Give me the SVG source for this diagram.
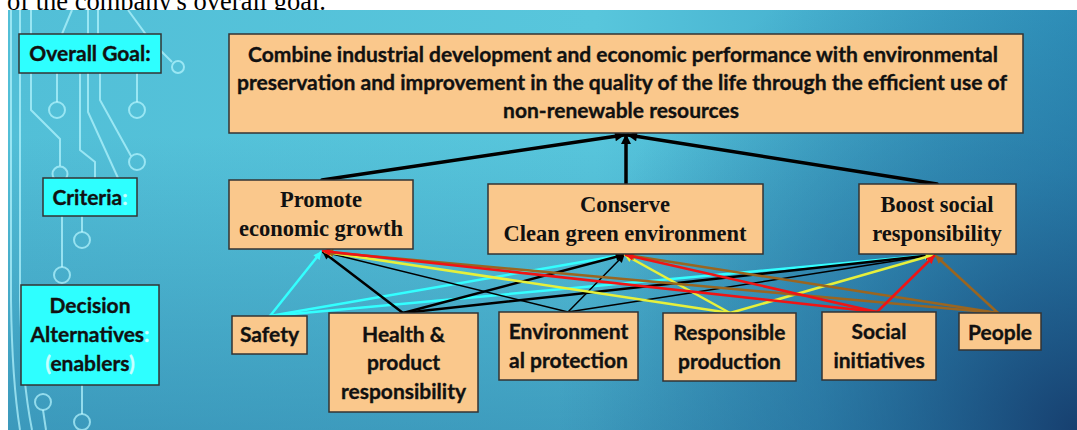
<svg xmlns="http://www.w3.org/2000/svg" width="1077" height="430" viewBox="0 0 1077 430">
  <style>
    .sans { font-family: Lato, "Open Sans", "Liberation Sans", sans-serif; font-weight: 700; fill: #111; stroke: #111; stroke-width: 0.35; }
    .serif { font-family: "Liberation Serif", "Times New Roman", serif; font-weight: 700; fill: #111; }
    .box { fill: #fac88c; stroke: #333; stroke-width: 1.5; }
    .tag { fill: #2effff; stroke: #333; stroke-width: 1.5; }
    .pale { fill: #c8ffff; stroke: #c8ffff; }
    .trace { fill: none; stroke: #b8f6ff; stroke-opacity: 0.7; stroke-width: 2; }
    .link { fill: none; stroke-linecap: round; }
  </style>
  <defs>
    <linearGradient id="bgBase" x1="0" y1="0" x2="1" y2="0">
      <stop offset="0" stop-color="#52bfd7"/>
      <stop offset="0.55" stop-color="#58c6dc"/>
      <stop offset="1" stop-color="#3198c0"/>
    </linearGradient>
    <linearGradient id="bgFloor" x1="0" y1="0" x2="0" y2="1">
      <stop offset="0.3" stop-color="#1f6a9a" stop-opacity="0"/>
      <stop offset="1" stop-color="#1f6a9a" stop-opacity="0.45"/>
    </linearGradient>
    <radialGradient id="bgCorner" gradientUnits="userSpaceOnUse" cx="1077" cy="430" r="520">
      <stop offset="0" stop-color="#163c6c" stop-opacity="0.95"/>
      <stop offset="0.5" stop-color="#1d5a8c" stop-opacity="0.45"/>
      <stop offset="1" stop-color="#1d5a8c" stop-opacity="0"/>
    </radialGradient>
    <marker id="ah-black-big" viewBox="0 0 10 10" refX="9" refY="5" markerWidth="12" markerHeight="10" markerUnits="userSpaceOnUse" orient="auto">
      <path d="M0,0 L10,5 L0,10 z" fill="#000"/>
    </marker>
    <marker id="ah-black" viewBox="0 0 10 10" refX="9" refY="5" markerWidth="10" markerHeight="8" markerUnits="userSpaceOnUse" orient="auto">
      <path d="M0,0 L10,5 L0,10 z" fill="#000"/>
    </marker>
    <marker id="ah-cyan" viewBox="0 0 10 10" refX="9" refY="5" markerWidth="10" markerHeight="8" markerUnits="userSpaceOnUse" orient="auto">
      <path d="M0,0 L10,5 L0,10 z" fill="#33ffff"/>
    </marker>
    <marker id="ah-yellow" viewBox="0 0 10 10" refX="9" refY="5" markerWidth="10" markerHeight="8" markerUnits="userSpaceOnUse" orient="auto">
      <path d="M0,0 L10,5 L0,10 z" fill="#e6f03c"/>
    </marker>
    <marker id="ah-red" viewBox="0 0 10 10" refX="9" refY="5" markerWidth="10" markerHeight="8" markerUnits="userSpaceOnUse" orient="auto">
      <path d="M0,0 L10,5 L0,10 z" fill="#f01414"/>
    </marker>
    <marker id="ah-brown" viewBox="0 0 10 10" refX="9" refY="5" markerWidth="10" markerHeight="8" markerUnits="userSpaceOnUse" orient="auto">
      <path d="M0,0 L10,5 L0,10 z" fill="#9a6520"/>
    </marker>
  </defs>

  <!-- page strip above the slide -->
  <rect x="0" y="0" width="1077" height="430" fill="#fff"/>
  <text x="7" y="10" font-family="'Liberation Serif', 'Times New Roman', serif" font-size="26.5" fill="#000">of the company's overall goal.</text>

  <!-- slide background -->
  <g id="background">
    <rect x="8" y="10" width="1069" height="420" fill="url(#bgBase)"/>
    <rect x="8" y="10" width="1069" height="420" fill="url(#bgFloor)"/>
    <rect x="8" y="10" width="1069" height="420" fill="url(#bgCorner)"/>
  </g>

  <!-- circuit-board ornament on the left edge -->
  <g id="circuit" class="trace">
    <path d="M11,10 V300 Q12,380 20,430"/>
    <path d="M20,10 V300 Q22,380 32,430"/>
    <path d="M31,10 V110 L60,139 V166"/>
    <circle cx="60" cy="174" r="7.5"/>
    <path d="M72,10 L62,34"/>
    <path d="M57,73 V102"/>
    <circle cx="57" cy="110" r="8"/>
    <path d="M88,10 V34"/>
    <path d="M98,10 V34"/>
    <path d="M88,73 V112 L118,178"/>
    <path d="M80,73 V150 L95,162 V178"/>
    <path d="M100,73 V100 L131,156"/>
    <circle cx="137" cy="162" r="8"/>
    <path d="M137,73 V102"/>
    <circle cx="137" cy="110" r="8"/>
    <path d="M128,10 L150,40 L172,62"/>
    <circle cx="178" cy="67" r="6"/>
    <path d="M62,216 V267"/>
    <circle cx="62" cy="275" r="8"/>
    <path d="M82,216 V232"/>
    <circle cx="82" cy="240" r="8"/>
    <path d="M82,385 V414"/>
    <circle cx="82" cy="422" r="8"/>
    <circle cx="43" cy="402" r="8"/>
    <path d="M43,410 L46,430"/>
  </g>

  <!-- level labels -->
  <g id="label-goal">
    <rect class="tag" x="19" y="34" width="142" height="39"/>
    <text class="sans" x="90" y="61" font-size="21" text-anchor="middle">Overall Goal:</text>
  </g>
  <g id="label-criteria">
    <rect class="tag" x="43" y="178" width="94" height="38"/>
    <text class="sans" x="90" y="205" font-size="21" text-anchor="middle">Criteria<tspan class="pale">:</tspan></text>
  </g>
  <g id="label-alternatives">
    <rect class="tag" x="21" y="285" width="138" height="100"/>
    <text class="sans" x="90" y="313" font-size="21" text-anchor="middle">Decision</text>
    <text class="sans" x="90" y="342" font-size="21" text-anchor="middle">Alternatives<tspan class="pale">:</tspan></text>
    <text class="sans" x="90" y="371" font-size="21" text-anchor="middle"><tspan class="pale">(</tspan>enablers<tspan class="pale">)</tspan></text>
  </g>

  <!-- connectors -->
  <g id="connectors">
    <!-- criteria to goal -->
    <g stroke="#000" stroke-width="3.5" class="link" marker-end="url(#ah-black-big)">
      <line x1="322" y1="180" x2="624" y2="135"/>
      <line x1="626" y1="184" x2="626" y2="135"/>
      <line x1="937" y1="184" x2="628" y2="135"/>
    </g>
    <!-- Safety -->
    <g stroke="#33ffff" stroke-width="2.5" class="link" marker-end="url(#ah-cyan)">
      <line x1="270" y1="316" x2="321" y2="252"/>
      <line x1="270" y1="316" x2="622" y2="255"/>
      <line x1="270" y1="316" x2="932" y2="255"/>
    </g>
    <!-- Health & product responsibility -->
    <g stroke="#000" stroke-width="2.5" class="link" marker-end="url(#ah-black)">
      <line x1="403" y1="313" x2="323" y2="252"/>
      <line x1="403" y1="313" x2="623" y2="255"/>
      <line x1="403" y1="313" x2="933" y2="255"/>
    </g>
    <!-- Environmental protection -->
    <g stroke="#000" stroke-width="1.5" class="link" marker-end="url(#ah-black)">
      <line x1="568" y1="312" x2="324" y2="252"/>
      <line x1="568" y1="312" x2="624" y2="255"/>
      <line x1="568" y1="312" x2="933" y2="255"/>
    </g>
    <!-- Responsible production -->
    <g stroke="#e6f03c" stroke-width="2.5" class="link" marker-end="url(#ah-yellow)">
      <line x1="730" y1="313" x2="325" y2="252"/>
      <line x1="730" y1="313" x2="625" y2="255"/>
      <line x1="730" y1="313" x2="933" y2="255"/>
    </g>
    <!-- People -->
    <g stroke="#9a6520" stroke-width="2.5" class="link" marker-end="url(#ah-brown)">
      <line x1="998" y1="313" x2="326" y2="252"/>
      <line x1="998" y1="313" x2="627" y2="255"/>
      <line x1="998" y1="313" x2="936" y2="256"/>
    </g>
    <!-- Social initiatives -->
    <g stroke="#f01414" stroke-width="2.5" class="link" marker-end="url(#ah-red)">
      <line x1="877" y1="312" x2="323" y2="251"/>
      <line x1="877" y1="312" x2="626" y2="255"/>
      <line x1="877" y1="312" x2="934" y2="256"/>
    </g>
  </g>

  <!-- goal -->
  <g id="goal">
    <rect class="box" x="229" y="34" width="794" height="99"/>
    <text class="sans" x="623" y="62" font-size="21" text-anchor="middle" textLength="750" lengthAdjust="spacingAndGlyphs">Combine industrial development and economic performance with environmental</text>
    <text class="sans" x="622" y="90" font-size="21" text-anchor="middle" textLength="770" lengthAdjust="spacingAndGlyphs">preservation and improvement in the quality of the life through the efficient use of</text>
    <text class="sans" x="621" y="118" font-size="21" text-anchor="middle">non-renewable resources</text>
  </g>

  <!-- criteria -->
  <g id="crit-economic">
    <rect class="box" x="229" y="180" width="184" height="69"/>
    <text class="serif" x="321" y="207" font-size="22.5" text-anchor="middle">Promote</text>
    <text class="serif" x="321" y="236" font-size="22.5" text-anchor="middle">economic growth</text>
  </g>
  <g id="crit-environment">
    <rect class="box" x="488" y="184" width="275" height="70"/>
    <text class="serif" x="625" y="212" font-size="22.5" text-anchor="middle">Conserve</text>
    <text class="serif" x="625" y="241" font-size="22.5" text-anchor="middle">Clean green environment</text>
  </g>
  <g id="crit-social">
    <rect class="box" x="859" y="184" width="157" height="70"/>
    <text class="serif" x="937" y="212" font-size="22.5" text-anchor="middle">Boost social</text>
    <text class="serif" x="937" y="241" font-size="22.5" text-anchor="middle">responsibility</text>
  </g>

  <!-- decision alternatives -->
  <g id="alt-safety">
    <rect class="box" x="232" y="316" width="75" height="38"/>
    <text class="sans" x="269.5" y="342" font-size="21" text-anchor="middle">Safety</text>
  </g>
  <g id="alt-health">
    <rect class="box" x="329" y="313" width="149" height="99"/>
    <text class="sans" x="403.5" y="342" font-size="21" text-anchor="middle">Health &amp;</text>
    <text class="sans" x="403.5" y="370" font-size="21" text-anchor="middle">product</text>
    <text class="sans" x="403.5" y="399" font-size="21" text-anchor="middle">responsibility</text>
  </g>
  <g id="alt-environment">
    <rect class="box" x="499" y="312" width="139" height="68"/>
    <text class="sans" x="568.5" y="339" font-size="21" text-anchor="middle">Environment</text>
    <text class="sans" x="568.5" y="368" font-size="21" text-anchor="middle">al protection</text>
  </g>
  <g id="alt-production">
    <rect class="box" x="663" y="313" width="133" height="68"/>
    <text class="sans" x="729.5" y="340" font-size="21" text-anchor="middle">Responsible</text>
    <text class="sans" x="729.5" y="369" font-size="21" text-anchor="middle">production</text>
  </g>
  <g id="alt-social">
    <rect class="box" x="822" y="312" width="114" height="68"/>
    <text class="sans" x="879" y="339" font-size="21" text-anchor="middle">Social</text>
    <text class="sans" x="879" y="368" font-size="21" text-anchor="middle">initiatives</text>
  </g>
  <g id="alt-people">
    <rect class="box" x="959" y="313" width="82" height="37"/>
    <text class="sans" x="1000" y="340" font-size="21" text-anchor="middle">People</text>
  </g>
</svg>
